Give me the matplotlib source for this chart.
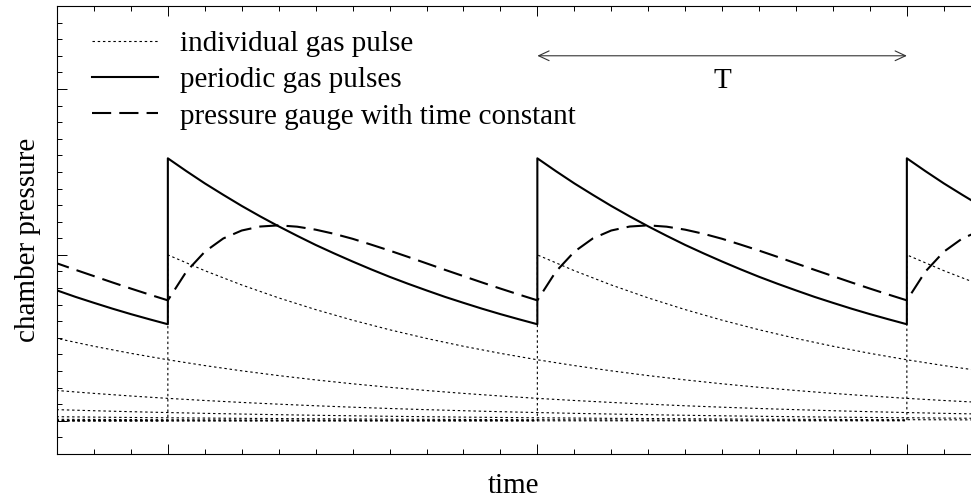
import numpy as np
import matplotlib
matplotlib.use("Agg")
import matplotlib.pyplot as plt
from matplotlib.lines import Line2D
from matplotlib.ticker import MultipleLocator

plt.rcParams['font.family'] = ['Liberation Serif', 'DejaVu Serif']

# Tiempos de los pulsos (en unidades del periodo T).
pulse_times = [-6, -5, -4, -3, -2, -1, 0, 1, 2]
# Presion de un pulso individual, leida cada 0.1 T despues del pulso.
pulse_decay = [10.000, 9.048, 8.187, 7.408, 6.703, 6.065, 5.488, 4.966, 4.493, 4.066,
               3.679, 3.329, 3.012, 2.725, 2.466, 2.231, 2.019, 1.827, 1.653, 1.496,
               1.353, 1.225, 1.108, 1.003, 0.907, 0.821, 0.743, 0.672, 0.608, 0.550,
               0.498, 0.450, 0.408, 0.369, 0.334, 0.302, 0.273, 0.247, 0.224, 0.202,
               0.183, 0.166, 0.150, 0.136, 0.123, 0.111, 0.101, 0.091, 0.082, 0.074,
               0.067, 0.061, 0.055, 0.050, 0.045, 0.041, 0.037, 0.033, 0.030, 0.027,
               0.025]
decay_step = 0.1
# Presion periodica dentro de un periodo (cada 0.05 T).
periodic_pressure = [15.82, 15.05, 14.31, 13.62, 12.95, 12.32, 11.72, 11.15, 10.60, 10.09,
                     9.60, 9.13, 8.68, 8.26, 7.86, 7.47, 7.11, 6.76, 6.43, 6.12, 5.82]
# Lectura del manometro con constante de tiempo (cada 0.05 T).
gauge_pressure = [7.26, 8.99, 10.19, 10.99, 11.47, 11.71, 11.78, 11.70, 11.52, 11.27,
                  10.97, 10.62, 10.26, 9.88, 9.49, 9.10, 8.72, 8.34, 7.97, 7.61, 7.26]
periods = [-1, 0, 1, 2]

xmin, xmax = -0.3, 2.1736
ymin, ymax = -2, 25

fig = plt.figure(figsize=(9.71, 4.99), dpi=100)
ax = fig.add_axes([57 / 971, 45 / 499, 914 / 971, 448 / 499])

dot_style = dict(color='black', lw=0.8, linestyle=(0, (2.2, 2.5)))
solid_style = dict(color='black', lw=1.5, linestyle='-')
dash_style = dict(color='black', lw=1.5, linestyle=(0, (9.2, 3.9)))

# Pulsos individuales.
for tk in pulse_times:
    x = tk + decay_step * np.arange(len(pulse_decay))
    y = np.array(pulse_decay)
    if tk > xmin:
        x = np.concatenate([[xmin - 0.1, tk], x])
        y = np.concatenate([[0, 0], y])
    ax.plot(x, y, **dot_style)

# Pulsos periodicos.
ph = np.linspace(0, 1, len(periodic_pressure))
xs = np.concatenate([p + ph for p in periods])
ys = np.concatenate([periodic_pressure for p in periods])
ax.plot(xs, ys, **solid_style)

# Manometro.
phg = np.linspace(0, 1, len(gauge_pressure))
xg = np.concatenate([p + phg for p in periods])
yg = np.concatenate([gauge_pressure for p in periods])
ax.plot(xg, yg, **dash_style)

ax.set_xlim(xmin, xmax)
ax.set_ylim(ymin, ymax)

# Flecha del periodo T (entre el segundo y el tercer pulso).
ax.annotate('', xy=(2, 22), xytext=(1, 22),
            arrowprops=dict(arrowstyle='<->, head_length=0.75, head_width=0.35',
                            color='#333333', lw=0.8, shrinkA=0, shrinkB=0,
                            mutation_scale=10))
ax.text(1.5, 20.5, 'T', fontsize=21, ha='center', va='center')

ax.xaxis.set_major_locator(MultipleLocator(1))
ax.xaxis.set_minor_locator(MultipleLocator(0.1))
ax.yaxis.set_major_locator(MultipleLocator(10))
ax.yaxis.set_minor_locator(MultipleLocator(1))
ax.tick_params(which='both', direction='in', top=True, right=False,
               labelbottom=False, labelleft=False, width=0.7)
ax.tick_params(which='major', length=7.2)
ax.tick_params(which='minor', length=3.6)
ax.spines['right'].set_visible(False)
for s in ['left', 'top', 'bottom']:
    ax.spines[s].set_linewidth(0.8)

fig.text(514 / 971, 1 - 493 / 499, 'time', fontsize=21, ha='center', va='baseline')
fig.text(35 / 971, 1 - 240 / 499, 'chamber pressure', fontsize=21, rotation=90,
         rotation_mode='anchor', ha='center', va='baseline')

handles = [Line2D([], [], **dot_style), Line2D([], [], **solid_style),
           Line2D([], [], **dash_style)]
labels = ['individual gas pulse', 'periodic gas pulses', 'pressure gauge with time constant']
ax.legend(handles, labels, loc='upper left', bbox_to_anchor=(92 / 971, 1 - 31 / 499),
          bbox_transform=fig.transFigure, frameon=False, fontsize=21,
          handlelength=2.25, handletextpad=0.75, labelspacing=0.33,
          borderpad=0, borderaxespad=0)

fig.savefig('out.png', dpi=100)
